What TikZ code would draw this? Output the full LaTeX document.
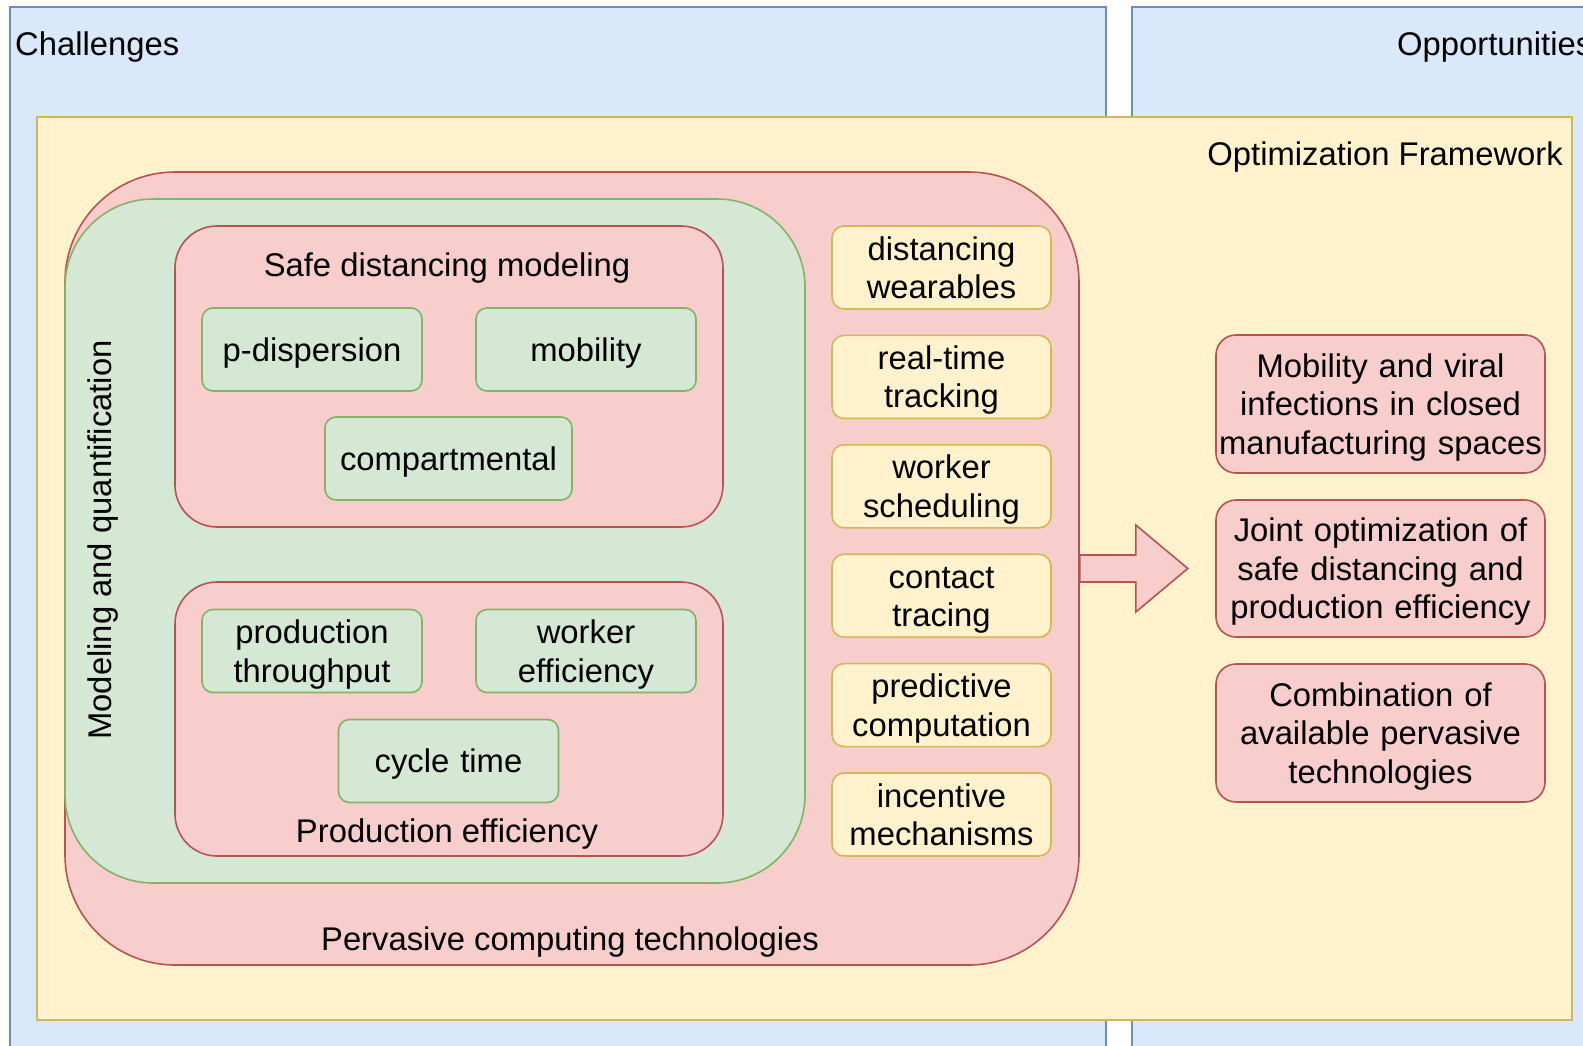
\documentclass[tikz,border=0pt]{standalone}
\usepackage{fontspec}
\setmainfont{Liberation Sans}
\usetikzlibrary{positioning}
\definecolor{skyF}{HTML}{DAE8FC}
\definecolor{skyD}{HTML}{6C8EBF}
\definecolor{sandF}{HTML}{FFF2CC}
\definecolor{sandD}{HTML}{D6B656}
\definecolor{roseF}{HTML}{F8CECC}
\definecolor{roseD}{HTML}{B85450}
\definecolor{sageF}{HTML}{D5E8D4}
\definecolor{sageD}{HTML}{82B366}
\tikzset{
  zone/.style={rectangle, draw=#1D, fill=#1F, line width=1.6pt, inner sep=0pt},
  lined/.style={align=center, text width=#1, execute at begin node={\noindent\rule{0pt}{31pt}},
                execute at end node={\rule[-7.4pt]{0pt}{7.4pt}}},
  tech/.style={zone=sand, lined=219pt, rounded corners=12pt, minimum width=219pt, minimum height=83pt},
  metric/.style={zone=sage, lined=220pt, rounded corners=11pt, minimum width=220pt, minimum height=83pt},
  goal/.style={zone=rose, lined=329pt, rounded corners=20pt, minimum width=329pt, minimum height=137pt},
  caption/.style={inner sep=0pt},
}

\begin{document}
\begin{tikzpicture}[x=1pt, y=-1pt, node distance=24.8pt, font=\fontsize{32.8}{38.4}\selectfont]
    \useasboundingbox (0,0) rectangle (1583,1045);
    \clip (0,0) rectangle (1583,1045);
    % swimlanes
    \node[zone=sky, minimum width=1096pt, minimum height=1070pt] (chal) at (558,542) {};
    \node[zone=sky, minimum width=480pt, minimum height=1070pt] (opp) at (1372,542) {};
    \node[caption, anchor=base west] (chaltxt) at (15,55) {Challenges};
    \node[caption, anchor=base west] (opptxt) at (1397,55) {Opportunities};
    % framework
    \node[zone=sand, minimum width=1535pt, minimum height=903pt] (frame) at (804.5,568.5) {};
    \node[caption, anchor=base east] (frametxt) at (1563,165) {Optimization Framework};
    % nested containers
    \node[zone=rose, rounded corners=110pt, minimum width=1014pt, minimum height=793pt] (pv) at (572,568.5) {};
    \node[caption, anchor=base] (pvtxt) at (570,950) {Pervasive computing technologies};
    \node[zone=sage, rounded corners=88pt, minimum width=740pt, minimum height=684pt] (mq) at (435,541) {};
    \node[caption, rotate=90] (mqtxt) at (103,540) {Modeling and quantification};
    \node[zone=rose, rounded corners=42pt, minimum width=548pt, minimum height=301pt] (safe) at (449,376.5) {};
    \node[caption, anchor=base] (safetxt) at (447,276) {Safe distancing modeling};
    \node[zone=rose, rounded corners=42pt, minimum width=548pt, minimum height=274pt] (prod) at (449,719) {};
    \node[caption, anchor=base] (prodtxt) at (447,842) {Production efficiency};
    % metrics
    \node[metric] (disp) at (312,349.5) {p-dispersion};
    \node[metric] (mob) at (586,349.5) {mobility};
    \node[metric, minimum width=247pt] (comp) at (448.5,458.5) {compartmental};
    \node[metric] (thru) at (312,651) {production\\throughput};
    \node[metric] (weff) at (586,651) {worker\\efficiency};
    \node[metric] (cyc) at (448.5,761) {cycle time};
    % technologies
    \node[tech] (wear) at (941.5,267.5) {distancing\\wearables};
    \node[tech, below=of wear] (track) {real-time\\tracking};
    \node[tech, below=of track] (sched) {worker\\scheduling};
    \node[tech, below=of sched] (trace) {contact\\tracing};
    \node[tech, below=of trace] (pred) {predictive\\computation};
    \node[tech, below=of pred] (incent) {incentive\\mechanisms};
    % opportunities
    \node[goal, minimum height=138pt] (viral) at (1380.5,404) {Mobility and viral\\infections in closed\\manufacturing spaces};
    \node[goal, below=25.4pt of viral] (joint) {Joint optimization of\\safe distancing and\\production efficiency};
    \node[goal, minimum height=138pt, below=25.4pt of joint] (combo) {Combination of\\available pervasive\\technologies};
    \draw[zone=rose, line join=miter] ([yshift=13.5pt]pv.east) -- ++(56,0) -- ++(0,-30) -- ++(52,43.5)
      -- ++(-52,43.5) -- ++(0,-30) -- ++(-56,0) -- cycle;
  \end{tikzpicture}
\end{document}
